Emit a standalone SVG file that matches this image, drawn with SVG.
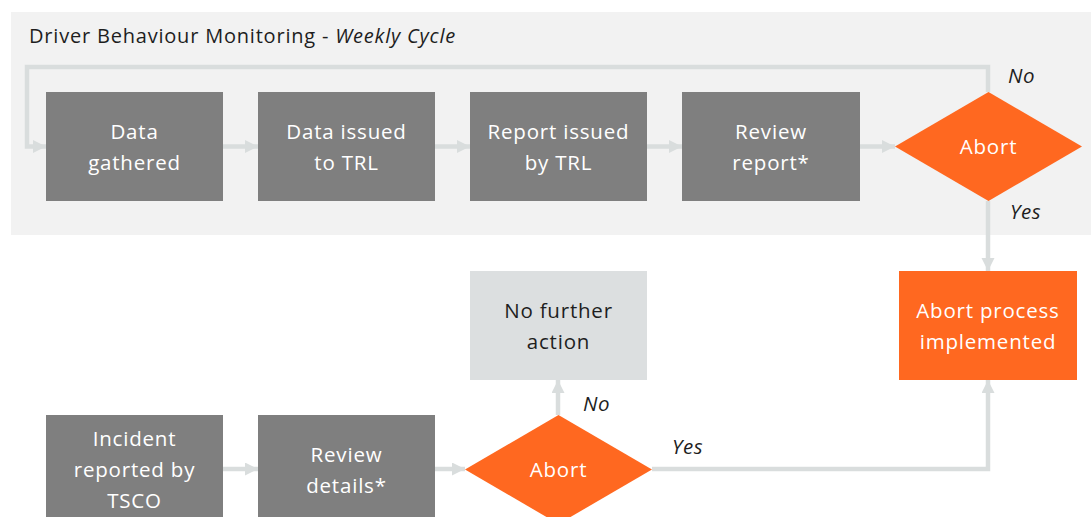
<svg xmlns="http://www.w3.org/2000/svg" width="1091" height="517" viewBox="0 0 1091 517">
  <style>
    .box { fill: #7f7f7f; }
    .hot { fill: #ff6820; }
    .pale { fill: #dcdfe0; }
    .t { font-family: "Open Sans", "Liberation Sans", sans-serif; font-size: 20.5px; letter-spacing: 0.8px; text-anchor: middle; }
    .w { fill: #ffffff; }
    .k { fill: #1e1e1e; }
    .lbl { font-family: "Open Sans", "Liberation Sans", sans-serif; font-size: 20.5px; letter-spacing: 0.6px; font-style: italic; fill: #1e1e1e; }
    .wire { fill: none; stroke: #d9dddd; stroke-width: 4.5; marker-end: url(#head); }
  </style>
  <defs>
    <marker id="head" markerUnits="userSpaceOnUse" markerWidth="14" markerHeight="14" refX="13" refY="6.5" orient="auto">
      <path d="M0,0 L13,6.5 L0,13 Z" fill="#d9dddd"/>
    </marker>
  </defs>

  <!-- weekly cycle panel -->
  <rect x="11" y="12" width="1080" height="223" fill="#f2f2f2"/>
  <text x="29" y="43" font-family="Open Sans, Liberation Sans, sans-serif" font-size="20" letter-spacing="0.8" fill="#1e1e1e">Driver Behaviour Monitoring - <tspan font-style="italic">Weekly Cycle</tspan></text>

  <g id="connectors">
    <path class="wire" d="M988,92 V67 H27 V146.5 H46"/>
    <path class="wire" d="M223,146.5 H258"/>
    <path class="wire" d="M435,146.5 H470"/>
    <path class="wire" d="M647,146.5 H682"/>
    <path class="wire" d="M860,146.5 H895"/>
    <path class="wire" d="M988,201 V271"/>
    <path class="wire" d="M223,469 H258"/>
    <path class="wire" d="M435,469 H465"/>
    <path class="wire" d="M558,415 V380"/>
    <path class="wire" d="M652,469 H988 V380"/>
    <text class="lbl" x="1008" y="83">No</text>
    <text class="lbl" x="1010" y="219">Yes</text>
    <text class="lbl" x="583" y="411">No</text>
    <text class="lbl" x="672" y="454">Yes</text>
  </g>

  <g id="data-gathered">
    <rect class="box" x="46" y="92" width="177" height="109"/>
    <text class="t w" x="134.5" y="139">Data</text>
    <text class="t w" x="134.5" y="170">gathered</text>
  </g>
  <g id="data-issued">
    <rect class="box" x="258" y="92" width="177" height="109"/>
    <text class="t w" x="346.5" y="139">Data issued</text>
    <text class="t w" x="346.5" y="170">to TRL</text>
  </g>
  <g id="report-issued">
    <rect class="box" x="470" y="92" width="177" height="109"/>
    <text class="t w" x="558.5" y="139">Report issued</text>
    <text class="t w" x="558.5" y="170">by TRL</text>
  </g>
  <g id="review-report">
    <rect class="box" x="682" y="92" width="178" height="109"/>
    <text class="t w" x="771" y="139">Review</text>
    <text class="t w" x="771" y="170">report*</text>
  </g>
  <g id="abort-weekly">
    <polygon class="hot" points="988.5,92 1082,146.5 988.5,201 895,146.5"/>
    <text class="t w" x="988.5" y="154">Abort</text>
  </g>

  <g id="abort-process">
    <rect class="hot" x="899" y="271" width="178" height="109"/>
    <text class="t w" x="988" y="318">Abort process</text>
    <text class="t w" x="988" y="349">implemented</text>
  </g>
  <g id="no-further-action">
    <rect class="pale" x="470" y="271" width="177" height="109"/>
    <text class="t k" x="558.5" y="318">No further</text>
    <text class="t k" x="558.5" y="349">action</text>
  </g>

  <g id="incident-reported">
    <rect class="box" x="46" y="415" width="177" height="109"/>
    <text class="t w" x="134.5" y="446">Incident</text>
    <text class="t w" x="134.5" y="477">reported by</text>
    <text class="t w" x="134.5" y="508">TSCO</text>
  </g>
  <g id="review-details">
    <rect class="box" x="258" y="415" width="177" height="109"/>
    <text class="t w" x="346.5" y="462">Review</text>
    <text class="t w" x="346.5" y="493">details*</text>
  </g>
  <g id="abort-incident">
    <polygon class="hot" points="558.5,415 652,469.5 558.5,524 465,469.5"/>
    <text class="t w" x="558.5" y="477">Abort</text>
  </g>
</svg>
